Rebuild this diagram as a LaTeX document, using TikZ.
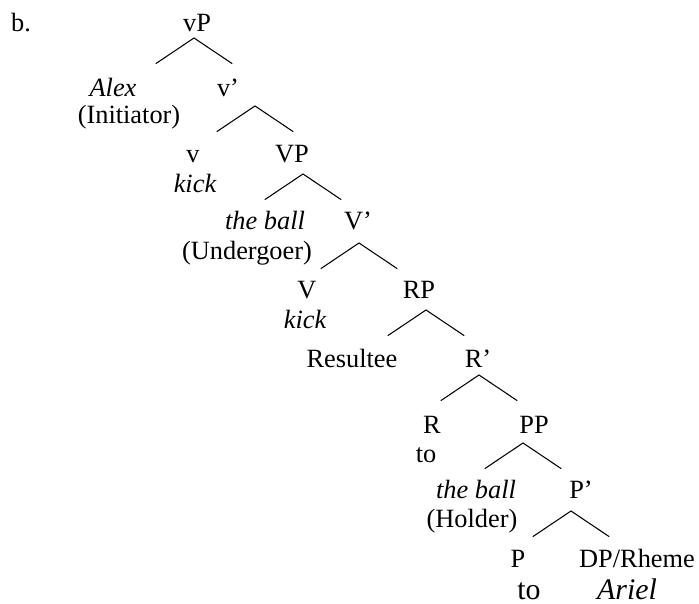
\documentclass[tikz,border=0pt]{standalone}
\usepackage{fontspec}
\setmainfont{Liberation Serif}
\usetikzlibrary{calc}
\tikzset{
  % träd
  lbl/.style={anchor=base,inner sep=0pt,font=\fontsize{15}{17}\selectfont},
  lex/.style={lbl,font=\fontsize{15}{17}\selectfont\itshape},
  bigl/.style={lbl,font=\fontsize{17}{20}\selectfont},
  bigx/.style={lbl,font=\fontsize{17}{20}\selectfont\itshape},
  br/.style={draw=black,line width=0.6pt,line cap=round},
}
\begin{document}
\begin{tikzpicture}[x=0.02cm,y=-0.02cm]
  \useasboundingbox (0,0) rectangle (699,604);
  \node[lbl] (ex) at (21,32) {b.};
  \node[lbl] (vp) at (197,32) {vP};
  \node[lex] (alex) at (113,97) {Alex};
  \node[lbl] (init) at (129,124) {(Initiator)};
  \node[lbl] (vbar) at (228,97) {v'};
  \node[lbl] (v) at (193,163) {v};
  \node[lex] (kick1) at (195,193) {kick};
  \node[lbl] (VP) at (292,163) {VP};
  \node[lex] (ball1) at (265,230) {the ball};
  \node[lbl] (undg) at (247,260) {(Undergoer)};
  \node[lbl] (Vbar) at (358,230) {V'};
  \node[lbl] (V) at (307,298) {V};
  \node[lex] (kick2) at (305,328) {kick};
  \node[lbl] (RP) at (419,298) {RP};
  \node[lbl] (rslt) at (352,367) {Resultee};
  \node[lbl] (Rbar) at (478,367) {R'};
  \node[lbl] (R) at (432,433) {R};
  \node[lbl] (to1) at (426,462) {to};
  \node[lbl] (PP) at (534,433) {PP};
  \node[lex] (ball2) at (476,498) {the ball};
  \node[lbl] (hold) at (472,527) {(Holder)};
  \node[lbl] (Pbar) at (581,498) {P'};
  \node[lbl] (P) at (518,567) {P};
  \node[lbl] (rheme) at (637,567) {DP/Rheme};
  \node[bigl] (to2) at (529,599) {to};
  \node[bigx] (ariel) at (627,599) {Ariel};
  % grenar
  \foreach \w/\x/\y in {vp/194/38,vbar/255/106,VP/303/174,Vbar/359/243,
                        RP/426/310,Rbar/479/375,PP/523/443,Pbar/571/511}{
    \coordinate (\w-top) at (\x,\y);
    \coordinate (\w-l) at ($(\w-top)+(-38,25.5)$);
    \coordinate (\w-r) at ($(\w-top)+(38,25.5)$);
    \draw[br] (\w-l) -- (\w-top) -- (\w-r);
  }
\end{tikzpicture}
\end{document}
